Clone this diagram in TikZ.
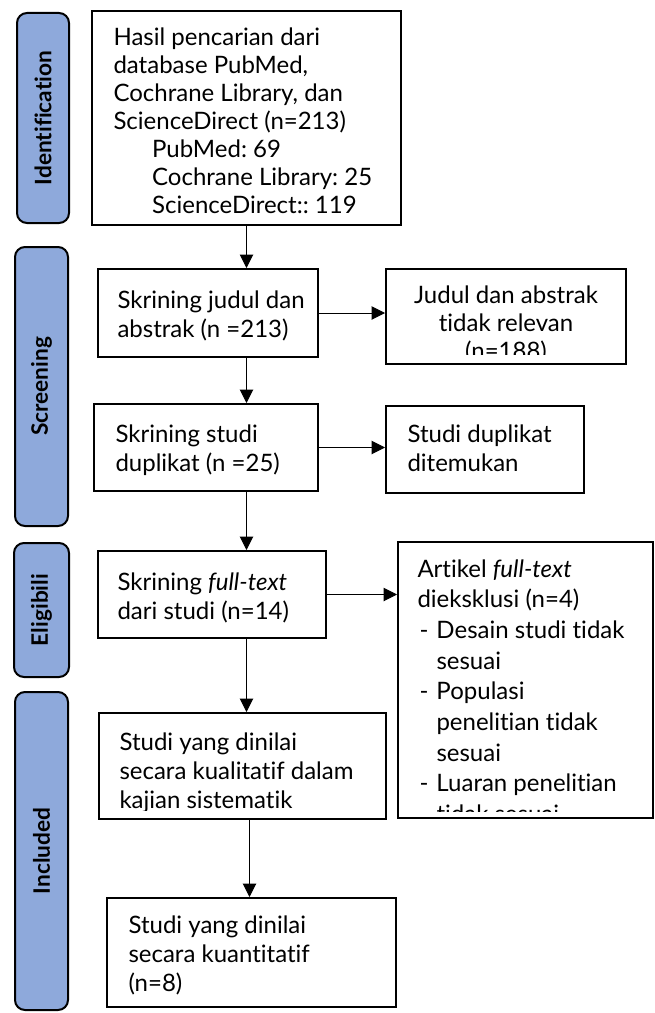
\documentclass[tikz,border=0pt]{standalone}
\usepackage{fontspec}
\setmainfont{Lato}[Ligatures=CommonOff]
\usetikzlibrary{arrows.meta,calc}
\definecolor{phaseblue}{RGB}{142,169,219}
\newcommand{\boxfont}{\fontsize{18pt}{22pt}\selectfont}
\newcommand{\dashitem}{\makebox[14.25pt][l]{\hspace*{1.5pt}-}}
\newcommand{\hangitem}{\hspace*{14.25pt}}
\frenchspacing

\tikzset{every picture/.style={line width=0.75pt}}
\tikzset{
  flowbox/.style={draw, line width=1.5pt, anchor=north west, inner sep=0pt},
  boxtext/.style={anchor=north west, inner sep=0pt, align=left, font=\boxfont},
  phasebox/.style={draw, line width=1.5pt, fill=phaseblue, rounded corners=7.5pt, rotate=90, inner sep=0pt, font=\fontsize{17pt}{20pt}\selectfont\bfseries},
  arr/.style={-{Triangle[length=10pt,width=10pt]}},
}

\begin{document}
\begin{tikzpicture}[x=0.75pt,y=0.75pt,yscale=-1,xscale=1]
	\useasboundingbox (0,0) rectangle (655,1013);

	%Shape: Rounded Rect (phases)
	\node[phasebox, minimum width=157.5pt, minimum height=39pt] (ident) at (43,118) {Identification};
	\node[phasebox, minimum width=209.25pt, minimum height=39.75pt] (screening) at (41.5,386.5) {Screening};
	\node[phasebox, minimum width=100.5pt, minimum height=41.25pt] (elig) at (41.5,610) {Eligibili};
	\node[phasebox, minimum width=238.5pt, minimum height=39.75pt] (incl) at (41.5,851) {Included};

	%Shape: Rectangle (main column)
	\node[flowbox, minimum width=231.75pt, minimum height=160.5pt] (search) at (91,10) {};
	\node[flowbox, minimum width=165pt, minimum height=66pt] (screen) at (97,268) {};
	\node[flowbox, minimum width=168pt, minimum height=65.25pt] (dupscr) at (93,403) {};
	\node[flowbox, minimum width=171pt, minimum height=65.25pt] (fullscr) at (97,550) {};
	\node[flowbox, minimum width=215.25pt, minimum height=79.5pt] (qual) at (98,712) {};
	\node[flowbox, minimum width=216.75pt, minimum height=81.75pt] (quant) at (106,897) {};

	%Shape: Rectangle (side column)
	\node[flowbox, minimum width=180pt, minimum height=71.25pt] (excl) at (385,268) {};
	\node[flowbox, minimum width=148.5pt, minimum height=65.25pt] (dup) at (385,405) {};
	\node[flowbox, minimum width=191.25pt, minimum height=207pt] (art) at (397,541) {};

	% Text Node
	\node[boxtext, font=\fontsize{18pt}{21pt}\selectfont] (searchtext) at ($(search.north west)+(22,17)$) {Hasil pencarian dari\\ database PubMed,\\ Cochrane Library, dan\\ ScienceDirect (n=213)\\ \hspace*{29pt}PubMed: 69\\ \hspace*{29pt}Cochrane Library: 25\\ \hspace*{29pt}ScienceDirect:: 119};
	\node[boxtext] (screentext) at ($(screen.north west)+(20,22)$) {Skrining judul dan\\ abstrak (n =213)};
	\node[boxtext] (dupscrtext) at ($(dupscr.north west)+(22,21)$) {Skrining studi\\ duplikat (n =25)};
	\node[boxtext] (duptext) at ($(dup.north west)+(22,19)$) {Studi duplikat\\ ditemukan};
	\node[boxtext] (fullscrtext) at ($(fullscr.north west)+(20,22)$) {Skrining \textit{full-text}\\ dari studi (n=14)};
	\node[boxtext] (quanttext) at ($(quant.north west)+(22,18)$) {Studi yang dinilai\\ secara kuantitatif\\ (n=8)};

	% Text Node (clipped by its box)
	\begin{scope}
		\clip (excl.north west) rectangle ($(excl.south east)+(0,-11)$);
		\node[boxtext, anchor=north, align=center, font=\fontsize{18pt}{21pt}\selectfont] (excltext) at ($(excl.north)+(0,17)$) {Judul dan abstrak\\ tidak relevan\\ (n=188)};
	\end{scope}
	\begin{scope}
		\clip (art.north west) rectangle ($(art.south east)+(0,-8)$);
		\node[boxtext, font=\fontsize{18pt}{23pt}\selectfont] (arttext) at ($(art.north west)+(20,18)$) {Artikel \textit{full-text}\\ dieksklusi (n=4)\\ \dashitem Desain studi tidak\\ \hangitem sesuai\\ \dashitem Populasi\\ \hangitem penelitian tidak\\ \hangitem sesuai\\ \dashitem Luaran penelitian\\ \hangitem tidak sesuai};
	\end{scope}
	\begin{scope}
		\clip (qual.north west) rectangle ($(qual.south east)+(0,-10)$);
		\node[boxtext] (qualtext) at ($(qual.north west)+(21,20)$) {Studi yang dinilai\\ secara kualitatif dalam\\ kajian sistematik};
	\end{scope}

	%Straight Lines (down)
	\draw[arr] (search.south) -- (search.south |- screen.north);
	\draw[arr] (screen.south -| search.south) -- (search.south |- dupscr.north);
	\draw[arr] (dupscr.south -| search.south) -- (search.south |- fullscr.north);
	\draw[arr] (fullscr.south -| search.south) -- (search.south |- qual.north);
	\draw[arr] ($(qual.south -| search.south)+(3,0)$) -- ($(search.south |- quant.north)+(3,0)$);

	%Straight Lines (right)
	\draw[arr] (screen.east) -- (screen.east -| excl.west);
	\draw[arr] (dupscr.east) -- (dupscr.east -| dup.west);
	\draw[arr] (fullscr.east) -- (fullscr.east -| art.west);

\end{tikzpicture}
\end{document}
